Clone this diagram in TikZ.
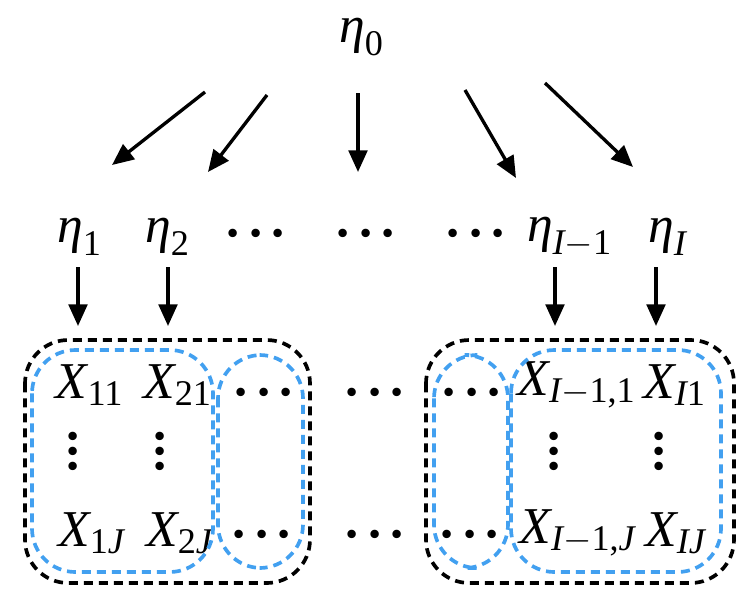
\documentclass[tikz,border=0pt]{standalone}
\usepackage{amsmath}
\usepackage{fontspec}
\setmainfont{Liberation Serif}
\usepackage{tikz}
\usetikzlibrary{arrows.meta}
\definecolor{plateblue}{RGB}{66,160,240}
\newcommand{\vit}[1]{\textit{#1}}
\newcommand{\vup}[1]{\textup{#1}}
\newcommand{\hdotz}{\textbf{·\kern1.6pt·\kern1.6pt·}}
\newcommand{\vdotz}{\vbox{\baselineskip=4.5pt\lineskiplimit=-20pt\lineskip=0pt
  \hbox{\textbf{·}}\hbox{\textbf{·}}\hbox{\textbf{·}}}}
\tikzset{
  var/.style      = {inner sep=1pt, font=\fontsize{15.5}{18}\selectfont},
  dotsv/.style    = {inner sep=0pt, font=\fontsize{15.5}{18}\selectfont},
  link/.style     = {-{Triangle[length=6.5pt,width=5.6pt]}, line width=1pt},
  outerplate/.style = {draw=black, line width=1.1pt, dash pattern=on 2.7pt off 1.8pt,
                       rounded corners=13pt},
  innerplate/.style = {draw=plateblue, line width=1.1pt, dash pattern=on 2.7pt off 1.8pt,
                       rounded corners=13pt},
}

\begin{document}
\begin{tikzpicture}[x=0.3pt, y=-0.3pt]
\useasboundingbox (0,0) rectangle (752,592);

% ---------- top and second row ----------
\node[var] (e0) at (362,37) {$\vit{η}_{\vup{0}}$};
\node[var] (e1) at (80,237) {$\vit{η}_{\vup{1}}$};
\node[var] (e2) at (168,237) {$\vit{η}_{\vup{2}}$};
\node[dotsv] (d1) at (256,240) {\hdotz};
\node[dotsv] (d2) at (366,240) {\hdotz};
\node[dotsv] (d3) at (476,240) {\hdotz};
\node[var] (eI1) at (570,237) {$\vit{η}_{\vit{I}-\vup{1}}$};
\node[var] (eI) at (668,237) {$\vit{η}_{\vit{I}}$};

% ---------- data grid ----------
\node[var] (x11) at (90,385) {$\vit{X}_{\vup{11}}$};
\node[var] (x21) at (178,385) {$\vit{X}_{\vup{21}}$};
\node[dotsv] (xd1) at (264,399) {\hdotz};
\node[dotsv] (xm1) at (375,399) {\hdotz};
\node[dotsv] (xe1) at (472,399) {\hdotz};
\node[var] (xI11) at (577,385) {$\vit{X}_{\vit{I}-\vup{1,1}}$};
\node[var] (xI1) at (675,385) {$\vit{X}_{\vit{I}\vup{1}}$};

\node[dotsv] (v1) at (73,458) {\vdotz};
\node[dotsv] (v2) at (160,458) {\vdotz};
\node[dotsv] (vI1) at (554,458) {\vdotz};
\node[dotsv] (vI) at (659,458) {\vdotz};

\node[var] (x1J) at (92,533) {$\vit{X}_{\vup{1}\vit{J}}$};
\node[var] (x2J) at (180,533) {$\vit{X}_{\vup{2}\vit{J}}$};
\node[dotsv] (xdJ) at (262,541) {\hdotz};
\node[dotsv] (xmJ) at (375,541) {\hdotz};
\node[dotsv] (xeJ) at (470,541) {\hdotz};
\node[var] (xI1J) at (578,533) {$\vit{X}_{\vit{I}-\vup{1,}\vit{J}}$};
\node[var] (xIJ) at (676,533) {$\vit{X}_{\vit{IJ}}$};

% ---------- arrow ends ----------
\coordinate (s1) at (205,92);   \coordinate (t1) at (112,165);
\coordinate (s2) at (267,95);   \coordinate (t2) at (208,172);
\coordinate (s3) at (358,93);   \coordinate (t3) at (358,172);
\coordinate (s4) at (465,90);   \coordinate (t4) at (516,178);
\coordinate (s5) at (545,83);   \coordinate (t5) at (633,167);

\coordinate (u1) at (78,267);   \coordinate (w1) at (78,326);
\coordinate (u2) at (168,267);  \coordinate (w2) at (168,326);
\coordinate (u3) at (555,267);  \coordinate (w3) at (555,326);
\coordinate (u4) at (656,267);  \coordinate (w4) at (656,326);

\foreach \i in {1,...,5} \draw[link] (s\i) -- (t\i);
\foreach \i in {1,...,4} \draw[link] (u\i) -- (w\i);

% ---------- plates ----------
\draw[outerplate] (25,340) rectangle (310,583);
\draw[outerplate] (426,340) rectangle (734,583);
\draw[innerplate] (32,350) rectangle (213,572);
\draw[innerplate] (218,355) rectangle (303,568);
\draw[innerplate] (434,355) rectangle (508,568);
\draw[innerplate] (511,350) rectangle (721,572);

\end{tikzpicture}
\end{document}
